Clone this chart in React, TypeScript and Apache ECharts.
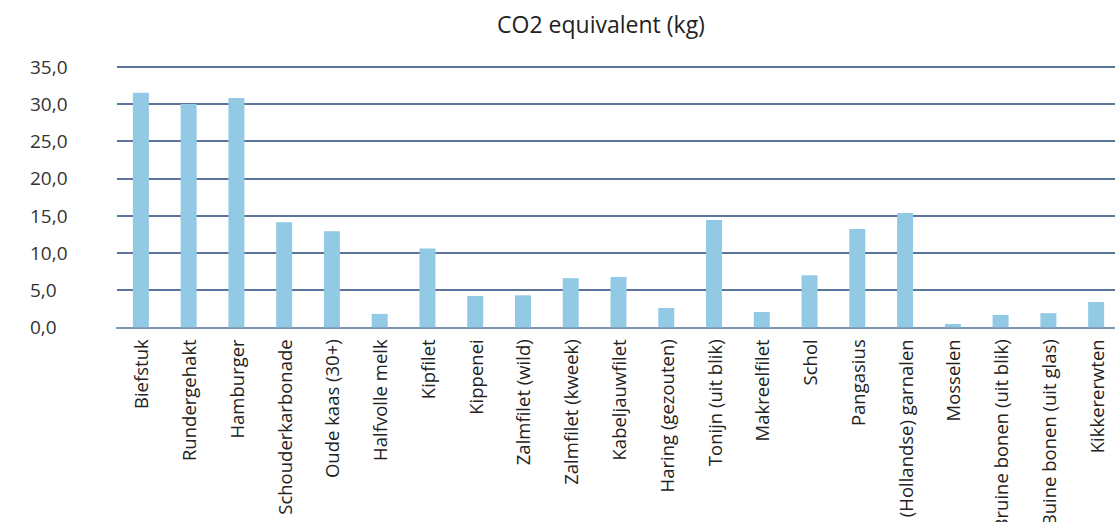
import React, { useEffect, useRef } from "react";
import * as echarts from "echarts";

const categories = [
  "Biefstuk",
  "Rundergehakt",
  "Hamburger",
  "Schouderkarbonade",
  "Oude kaas (30+)",
  "Halfvolle melk",
  "Kipfilet",
  "Kippenei",
  "Zalmfilet (wild)",
  "Zalmfilet (kweek)",
  "Kabeljauwfilet",
  "Haring (gezouten)",
  "Tonijn (uit blik)",
  "Makreelfilet",
  "Schol",
  "Pangasius",
  "(Hollandse) garnalen",
  "Mosselen",
  "Bruine bonen (uit blik)",
  "Buine bonen (uit glas)",
  "Kikkererwten",
];

const co2Values = [
  31.5, 30.0, 30.8, 14.1, 12.9, 1.8, 10.6, 4.2, 4.3, 6.6, 6.75, 2.6, 14.4, 2.05,
  7.0, 13.2, 15.35, 0.45, 1.65, 1.9, 3.4,
];

const titleText = "CO2 equivalent (kg)";
const yMin = 0;
const yMax = 35;
const yInterval = 5;

export default function App() {
  const ref = useRef<HTMLDivElement>(null);

  useEffect(() => {
    if (!ref.current) return;
    const chart = echarts.init(ref.current, null, { renderer: "svg" });
    const font = "'Open Sans', 'Noto Sans', sans-serif";
    chart.setOption({
      animation: false,
      backgroundColor: "#ffffff",
      title: {
        text: titleText,
        left: 596,
        top: 7,
        textAlign: "center",
        textStyle: {
          fontFamily: font,
          fontSize: 23,
          fontWeight: "normal",
          color: "#222222",
        },
      },
      grid: {
        left: 117,
        right: -5,
        top: 66.7,
        bottom: 194.7,
        containLabel: false,
        outerBoundsMode: "none",
      },
      xAxis: {
        type: "category",
        data: categories,
        boundaryGap: true,
        axisLine: { show: true, lineStyle: { color: "#7d95b3", width: 2 } },
        axisTick: { show: false },
        axisLabel: {
          rotate: 90,
          interval: 0,
          margin: 12,
          fontFamily: font,
          fontSize: 18.5,
          color: "#222222",
        },
      },
      yAxis: {
        type: "value",
        min: yMin,
        max: yMax,
        interval: yInterval,
        axisLine: { show: false },
        axisTick: { show: false },
        splitLine: { show: true, lineStyle: { color: "#24467a", width: 1.5 } },
        axisLabel: {
          align: "left",
          margin: 87,
          fontFamily: font,
          fontSize: 19,
          color: "#333333",
          formatter: (v: number) => v.toFixed(1).replace(".", ","),
        },
      },
      series: [
        {
          type: "bar",
          data: co2Values,
          barWidth: 16,
          itemStyle: { color: "#92cae6" },
        },
      ],
    });
    return () => chart.dispose();
  }, []);

  return (
    <div
      ref={ref}
      style={{ position: "fixed", left: 0, top: 0, width: 1115, height: 522 }}
    />
  );
}
